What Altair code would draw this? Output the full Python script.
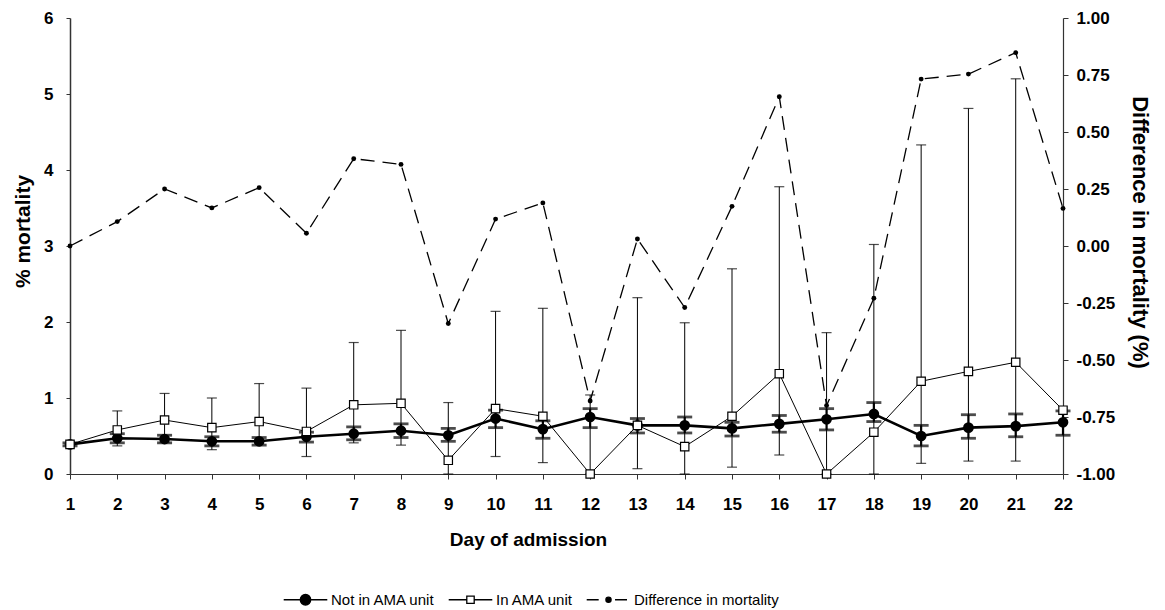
import altair as alt
import pandas as pd

# ---------------- data ----------------
days = list(range(1, 23))

not_ama = [0.39, 0.47, 0.46, 0.43, 0.43, 0.49, 0.53, 0.57, 0.51, 0.73, 0.59,
           0.75, 0.64, 0.64, 0.60, 0.66, 0.72, 0.79, 0.50, 0.61, 0.63, 0.68]
not_lo = [0.37, 0.41, 0.41, 0.37, 0.38, 0.42, 0.45, 0.48, 0.43, 0.61, 0.47,
          0.61, 0.54, 0.54, 0.50, 0.55, 0.58, 0.69, 0.37, 0.47, 0.49, 0.51]
not_hi = [0.41, 0.53, 0.51, 0.49, 0.48, 0.55, 0.62, 0.66, 0.60, 0.84, 0.70,
          0.86, 0.73, 0.75, 0.68, 0.77, 0.86, 0.94, 0.64, 0.78, 0.79, 0.83]

ama = [0.39, 0.58, 0.71, 0.61, 0.69, 0.56, 0.91, 0.93, 0.18, 0.86, 0.76,
       0.00, 0.64, 0.36, 0.76, 1.32, 0.00, 0.55, 1.22, 1.35, 1.47, 0.84]
ama_lo = [0.39, 0.37, 0.42, 0.32, 0.40, 0.23, 0.41, 0.38, 0.00, 0.23, 0.15,
          0.00, 0.07, 0.00, 0.09, 0.25, 0.00, 0.00, 0.14, 0.17, 0.17, None]
ama_hi = [0.39, 0.83, 1.06, 1.00, 1.19, 1.13, 1.73, 1.89, 0.94, 2.14, 2.18,
          1.04, 2.32, 1.99, 2.70, 3.78, 1.86, 3.02, 4.33, 4.81, 5.20, None]

diff = [0.00, 0.107, 0.25, 0.167, 0.256, 0.056, 0.383, 0.358, -0.34, 0.118, 0.189,
        -0.68, 0.031, -0.27, 0.174, 0.655, -0.70, -0.229, 0.732, 0.754, 0.848, 0.165]

series_names = ["Not in AMA unit", "In AMA unit", "Difference in mortality"]
x_ticks = days
left_ticks = [0, 1, 2, 3, 4, 5, 6]
right_ticks = [-1.0, -0.75, -0.5, -0.25, 0.0, 0.25, 0.5, 0.75, 1.0]

df = pd.DataFrame({
    "day": days, "not_ama": not_ama, "not_lo": not_lo, "not_hi": not_hi,
    "ama": ama, "ama_lo": ama_lo, "ama_hi": ama_hi, "diff": diff,
})
legend_df = pd.DataFrame({"series": series_names, "blank": [None] * 3})

FONT = "Liberation Sans"
NARROW = "Liberation Sans Narrow, Arial Narrow, Liberation Sans"
AX = "#333333"

x_axis = alt.Axis(values=x_ticks, title="Day of admission", labelFont=FONT,
                  labelFontSize=17, labelFontWeight="bold", labelColor="black",
                  titleFont=FONT, titleFontSize=19, titleFontWeight="bold",
                  titleColor="black", titlePadding=18, tickSize=5, labelPadding=17,
                  titleX=458, domainColor=AX, tickColor=AX, domainWidth=1.2,
                  grid=False, labelFlush=False)
x_scale = alt.Scale(domain=[1, 22], nice=False, zero=False)

left_axis = alt.Axis(values=left_ticks, title="% mortality", labelFont=FONT,
                     labelFontSize=17, labelFontWeight="bold", labelColor="black",
                     titleFont=FONT, titleFontSize=21, titleFontWeight="bold",
                     titleColor="black", titlePadding=10, tickSize=4, labelPadding=13,
                     titleY=213, domainColor=AX, tickColor=AX, domainWidth=1.5,
                     grid=False)
left_scale = alt.Scale(domain=[0, 6], nice=False, zero=False)

right_axis = alt.Axis(values=right_ticks, orient="right",
                      title="Difference in mortality (%)",
                      labelExpr="replace(format(datum.value, '.2f'), '\u2212', '-')",
                      labelFont=FONT, labelFontSize=17, labelFontWeight="bold",
                      labelColor="black", titleFont=FONT, titleFontSize=22,
                      titleFontWeight="bold", titleColor="black", titlePadding=13,
                      titleY=214, tickSize=5, labelPadding=8, domainColor=AX,
                      tickColor=AX, domainWidth=1.2, grid=False)
right_scale = alt.Scale(domain=[-1, 1], nice=False, zero=False)


def X():
    return alt.X("day:Q", scale=x_scale, axis=x_axis)


def YL(field):
    return alt.Y(f"{field}:Q", scale=left_scale, axis=left_axis)


base = alt.Chart(df)

# ---- Not in AMA unit (filled circles, thick line) ----
not_err = base.mark_rule(color="black", strokeWidth=2.2).encode(
    x=X(), y=YL("not_lo"), y2="not_hi:Q")
not_cap_lo = base.mark_tick(color="black", orient="horizontal", size=15,
                            thickness=2.8).encode(x=X(), y=YL("not_lo"))
not_cap_hi = base.mark_tick(color="black", orient="horizontal", size=15,
                            thickness=2.8).encode(x=X(), y=YL("not_hi"))
not_line = base.mark_line(color="black", strokeWidth=2.6).encode(
    x=X(), y=YL("not_ama"))
not_pts = base.mark_point(shape="circle", filled=True, color="black",
                          size=115, opacity=1).encode(x=X(), y=YL("not_ama"))

# ---- In AMA unit (open squares, thin line) ----
ama_base = base.transform_filter("isValid(datum.ama_hi)")
ama_err = ama_base.mark_rule(color="black", strokeWidth=1).encode(
    x=X(), y=YL("ama_lo"), y2="ama_hi:Q")
ama_cap_lo = ama_base.mark_tick(color="black", orient="horizontal", size=10,
                                thickness=1.2).encode(x=X(), y=YL("ama_lo"))
ama_cap_hi = ama_base.mark_tick(color="black", orient="horizontal", size=10,
                                thickness=1.2).encode(x=X(), y=YL("ama_hi"))
ama_line = base.mark_line(color="black", strokeWidth=1).encode(
    x=X(), y=YL("ama"))
ama_pts = base.mark_point(shape="square", filled=True, fill="white",
                          stroke="black", strokeWidth=1.2, size=70,
                          opacity=1).encode(x=X(), y=YL("ama"))

# ---- legend-only layer (no visible marks, null positions) ----
p_not = "M-1,0L1,0M0.24,0A0.24,0.24 0 1,1 -0.24,0A0.24,0.24 0 1,1 0.24,0Z"
p_ama = "M-1,0L-0.17,0M0.17,0L1,0M-0.17,-0.17L0.17,-0.17L0.17,0.17L-0.17,0.17Z"
p_diff = "M-1,0L-0.45,0M0.3,0L0.85,0M0.12,0A0.12,0.12 0 1,1 -0.12,0A0.12,0.12 0 1,1 0.12,0Z"
leg_def = alt.Legend(title=None, orient="none", legendX=213, legendY=559,
                     direction="horizontal", symbolSize=1900,
                     symbolStrokeColor="black", symbolStrokeWidth=1.3,
                     labelFont=NARROW, labelFontSize=15, labelColor="black",
                     labelLimit=0, labelOffset=3, columnPadding=10,
                     symbolOpacity=1)
legend_layer = alt.Chart(legend_df).mark_point(stroke="black", opacity=1).encode(
    x=alt.X("blank:Q", scale=x_scale, axis=x_axis),
    y=alt.Y("blank:Q", scale=left_scale, axis=left_axis),
    shape=alt.Shape("series:N", scale=alt.Scale(domain=series_names,
                                                range=[p_not, p_ama, p_diff]),
                    legend=leg_def),
    fill=alt.Fill("series:N", scale=alt.Scale(domain=series_names,
                                              range=["black", "white", "black"]),
                  legend=leg_def),
    stroke=alt.Stroke("series:N", scale=alt.Scale(domain=series_names,
                                                  range=["black", "black", "black"]),
                      legend=leg_def),
)

left = alt.layer(not_err, not_cap_lo, not_cap_hi, not_line, not_pts,
                 ama_err, ama_cap_lo, ama_cap_hi, ama_line, ama_pts,
                 legend_layer)

# ---- Difference in mortality (right axis, dashed) ----
diff_line = base.mark_line(color="black", strokeWidth=1.3,
                           strokeDash=[14, 8]).encode(
    x=X(), y=alt.Y("diff:Q", scale=right_scale, axis=right_axis))
diff_pts = base.mark_circle(color="black", size=24, opacity=1).encode(
    x=X(), y=alt.Y("diff:Q", scale=right_scale, axis=right_axis))
right = alt.layer(diff_line, diff_pts)

chart = alt.layer(right, left).resolve_scale(y="independent").properties(
    width=993, height=456,
    padding={"left": 70, "top": 18, "right": 102, "bottom": 136},
    autosize=alt.AutoSizeParams(type="none"),
    background="white",
).configure_view(stroke=None)

chart.save("out.html", embed_options={"renderer": "svg", "actions": False})
